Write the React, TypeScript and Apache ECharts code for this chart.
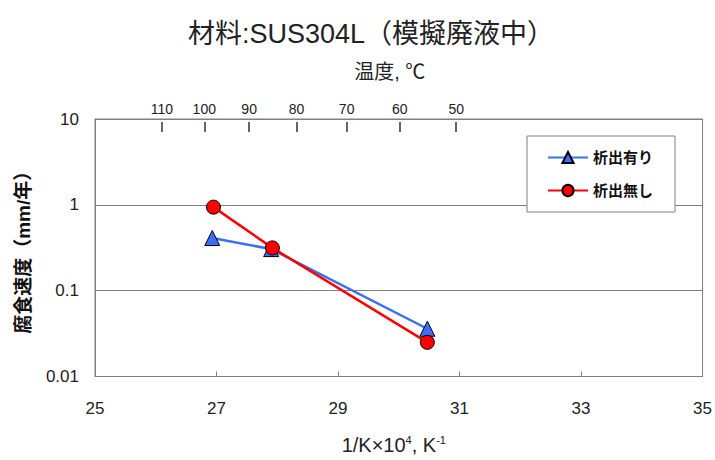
import React, { useEffect, useRef } from "react";
import * as echarts from "echarts";

const titleText = "材料:SUS304L（模擬廃液中）";
const seriesNames = ["析出有り", "析出無し"];
// x = 1/K × 10^4
const withPrecipX = [26.93, 27.9, 30.47];
const withPrecipY = [0.41, 0.305, 0.036];
const noPrecipX = [26.95, 27.92, 30.47];
const noPrecipY = [0.94, 0.315, 0.025];
const tempTicksC = [110, 100, 90, 80, 70, 60, 50];

const FONT = "'Liberation Sans', 'Noto Sans CJK JP', sans-serif";

export default function App() {
  const ref = useRef<HTMLDivElement>(null);
  useEffect(() => {
    if (!ref.current) return;
    const chart = echarts.init(ref.current, undefined, { renderer: "svg" });
    const tempVals = tempTicksC.map((t) => 10000 / (t + 273.15));
    chart.setOption({
      animation: false,
      backgroundColor: "#ffffff",
      textStyle: { fontFamily: FONT },
      title: {
        text: titleText,
        left: 183,
        top: 15,
        textStyle: { fontSize: 27, fontWeight: "normal", color: "#222", fontFamily: FONT },
      },
      grid: {
        left: 95,
        right: 10,
        top: 119,
        bottom: 78,
        show: true,
        borderColor: "#808080",
        borderWidth: 1,
        backgroundColor: "transparent",
      },
      legend: {
        orient: "vertical",
        left: 527,
        top: 136,
        padding: [14, 22, 14, 20],
        itemGap: 18,
        itemWidth: 40,
        itemHeight: 14,
        backgroundColor: "#fff",
        borderColor: "#808080",
        borderWidth: 1,
        textStyle: { fontSize: 15, fontWeight: "bold", color: "#111", fontFamily: FONT },
        data: seriesNames,
      },
      xAxis: [
        {
          type: "value",
          min: 25,
          max: 35,
          interval: 2,
          position: "bottom",
          name: "1/K×10{sup|4}, K{sup|-1}",
          nameLocation: "middle",
          nameGap: 58,
          nameTextStyle: {
            fontSize: 20,
            color: "#222",
            padding: [0, 10, 0, 0],
            rich: { sup: { fontSize: 11, verticalAlign: "top", padding: [0, 0, 10, 0] } },
          },
          axisLine: { lineStyle: { color: "#808080" } },
          axisTick: { inside: true, length: 5, lineStyle: { color: "#808080" } },
          axisLabel: { fontSize: 17, color: "#222", margin: 23 },
          splitLine: { show: false },
        },
        {
          type: "value",
          min: 25,
          max: 35,
          position: "top",
          offset: -3,
          name: "温度, ℃",
          nameLocation: "middle",
          nameGap: 40,
          nameTextStyle: { fontSize: 20, color: "#222", padding: [0, 18, 0, 0] },
          axisLine: { show: false },
          axisTick: {
            show: true,
            inside: true,
            length: 10,
            customValues: tempVals,
            lineStyle: { color: "#333", width: 1.5 },
          },
          axisLabel: {
            show: true,
            customValues: tempVals,
            fontSize: 14,
            color: "#222",
            margin: 6,
            formatter: (v: number) => String(Math.round(10000 / v - 273.15)),
          },
          splitLine: { show: false },
        },
      ],
      yAxis: {
        type: "log",
        logBase: 10,
        min: 0.01,
        max: 10,
        name: "腐食速度（mm/年）",
        nameLocation: "middle",
        nameGap: 62,
        nameTextStyle: { fontSize: 19, fontWeight: "bold", color: "#111" },
        axisLine: { show: true, lineStyle: { color: "#808080" } },
        axisTick: { show: false },
        axisLabel: {
          fontSize: 17,
          color: "#222",
          margin: 16,
          formatter: (v: number) => (v >= 1 ? String(Math.round(v)) : String(+v.toPrecision(1))),
        },
        splitLine: { show: true, lineStyle: { color: "#808080", width: 1 } },
      },
      series: [
        {
          name: seriesNames[0],
          type: "line",
          data: withPrecipX.map((x, i) => [x, withPrecipY[i]]),
          symbol: "triangle",
          symbolSize: 15,
          lineStyle: { color: "#3b6ff5", width: 2.5 },
          itemStyle: { color: "#3b6ff5", borderColor: "#000", borderWidth: 1 },
          z: 2,
        },
        {
          name: seriesNames[1],
          type: "line",
          data: noPrecipX.map((x, i) => [x, noPrecipY[i]]),
          symbol: "circle",
          symbolSize: 14,
          lineStyle: { color: "#ff0000", width: 2.5 },
          itemStyle: { color: "#ff0000", borderColor: "#000", borderWidth: 1 },
          z: 3,
        },
      ],
    });
    return () => chart.dispose();
  }, []);
  return (
    <div
      ref={ref}
      style={{ position: "absolute", left: 0, top: 0, width: 715, height: 460 }}
    />
  );
}
